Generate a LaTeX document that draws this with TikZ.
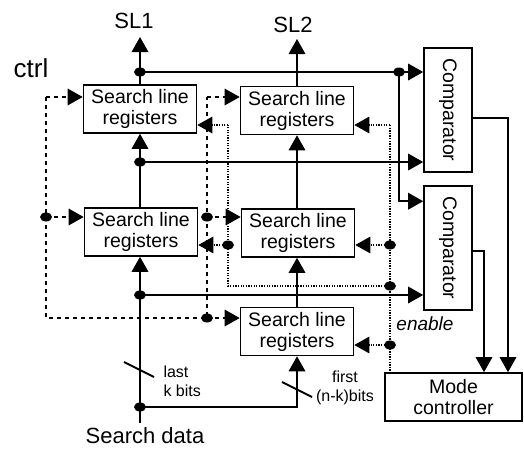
\documentclass[tikz,border=0pt]{standalone}
\usepackage{fontspec}
\setmainfont{Liberation Sans}
\usetikzlibrary{arrows.meta,shapes.geometric}
\begin{document}
\begin{tikzpicture}[x=1pt,y=-1pt,
  box/.style={draw,line width=1.6pt,inner sep=0pt,align=center,font=\fontsize{19.5}{21}\selectfont},
  regbox/.style={box,minimum width=113pt,minimum height=48pt},
  cmpbox/.style={box,minimum width=48pt,minimum height=124pt},
  sl/.style={line width=1.8pt},
  thinl/.style={line width=1.4pt},
  arr/.style={-{Triangle[length=15pt,width=16.5pt]}},
  ctl/.style={line width=1.6pt,dash pattern=on 4pt off 4pt},
  en/.style={line width=1.4pt,dash pattern=on 1.3pt off 1.3pt},
  jdot/.style={ellipse,fill,inner sep=0pt,minimum width=12pt,minimum height=9pt}
]
\useasboundingbox (0,0) rectangle (524,450);
% boxes
\node[regbox] (A) at (140,109) {Search line\\registers};
\node[regbox] (B) at (297,110.5) {Search line\\registers};
\node[regbox] (C) at (141,232) {Search line\\registers};
\node[regbox] (D) at (298,233) {Search line\\registers};
\node[regbox] (E) at (297,331.5) {Search line\\registers};
\node[cmpbox] (K1) at (448,110) {\rotatebox{-90}{Comparator}};
\node[cmpbox] (K2) at (448,248) {\rotatebox{-90}{Comparator}};
\node[box,minimum width=137pt,minimum height=48pt] (M) at (453.5,397) {Mode\\controller};
% labels
\node[font=\fontsize{22}{24}\selectfont] (tsl1) at (134,21) {SL1};
\node[font=\fontsize{22}{24}\selectfont] (tsl2) at (293,25) {SL2};
\node[font=\fontsize{26}{28}\selectfont] (tctrl) at (31,68) {ctrl};
\node[font=\fontsize{22}{24}\selectfont] (tsd) at (145,436) {Search data};
\node[font=\fontsize{16}{19}\selectfont,align=left,anchor=west] (tlk) at (160,381) {last\\k bits};
\node[font=\fontsize{16}{19}\selectfont,align=center] (tfb) at (345,388) {first\\(n-k)bits};
\node[font=\itshape\fontsize{19}{21}\selectfont] (ten) at (425,324) {enable};
% coordinates
\coordinate (sdb) at (140,423);
\coordinate (j1) at (140,407);
\coordinate (j2) at (140,295);
\coordinate (j3) at (140,162);
\coordinate (j4) at (140,72);
\coordinate (sl1) at (140,37);
\coordinate (j5) at (399,72);
\coordinate (sl2) at (297,39);
\coordinate (c0) at (46,97);
\coordinate (c1) at (46,217);
\coordinate (c2) at (46,318);
\coordinate (c3) at (207,318);
\coordinate (c4) at (207,217);
\coordinate (c5) at (207,97);
\coordinate (e1) at (390,345);
\coordinate (e2) at (390,286);
\coordinate (e3) at (390,245);
\coordinate (e4) at (390,125);
\coordinate (e5) at (228,286);
\coordinate (e6) at (228,245);
\coordinate (e7) at (228,125);
% SL1 column
\draw[sl] (sdb) -- (j1);
\draw[sl,arr] (j1) -- (j1 |- C.south);
\draw[sl,arr] (j1) -| (E.south);
\draw[sl,arr] (j2) -- (j2 -| K2.west);
\draw[sl,arr] (j1 |- C.north) -- (j1 |- A.south);
\draw[sl,arr] (j3) -- (j3 -| K1.west);
\draw[sl,arr] (j1 |- A.north) -- (sl1);
\draw[sl,arr] (j4) -- (j4 -| K1.west);
\draw[sl,arr] (j5) |- ([yshift=-16pt]K2.north west);
% SL2 column
\draw[sl,arr] (B.north) -- (sl2);
\draw[sl,arr] (D.north -| B.north) -- (B.south);
\draw[sl,arr] (E.north) -- (E.north |- D.south);
% bit slashes
\draw[sl] (124,362) -- (154,377);
\draw[sl] (282,382) -- (312,397);
% comparator outputs
\draw[thinl,arr] ([yshift=-8pt]K1.east) -| ([xshift=54.5pt]M.north);
\draw[thinl,arr] ([yshift=-3pt]K2.east) -| ([xshift=30.5pt]M.north);
% ctrl (dashed)
\draw[ctl] (c0) -- (c2) -- (c3) -- (c5);
\draw[ctl,arr] (c0) -- (c0 -| A.west);
\draw[ctl,arr] (c1) -- (c1 -| C.west);
\draw[ctl,arr] (c3) -- (c3 -| E.west);
\draw[ctl,arr] (c4) -- (c4 -| D.west);
\draw[ctl,arr] (c5) -- (c5 -| B.west);
% enable (dotted)
\draw[en] (e4) -- (e4 |- M.north);
\draw[en] (e2) -- (e5) -- (e7);
\draw[en,arr] (e4) -- (e4 -| B.east);
\draw[en,arr] (e3) -- (e3 -| D.east);
\draw[en,arr] (e1) -- (e1 -| E.east);
\draw[en,arr] (e6) -- (e6 -| C.east);
\draw[en,arr] (e7) -- (e7 -| A.east);
% junction dots
\foreach \p in {j1,j2,j3,j4,j5,c1,c3,c4,e1,e2,e3,e6}
  \node[jdot] at (\p) {};
\end{tikzpicture}
\end{document}
